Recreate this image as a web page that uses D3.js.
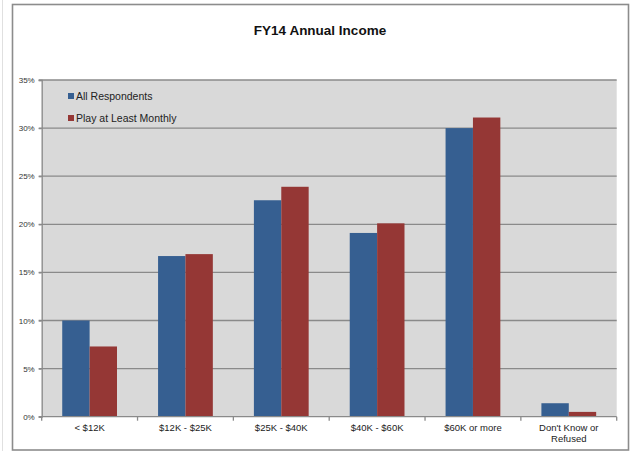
<!DOCTYPE html>
<html>
<head>
<meta charset="utf-8">
<script src="https://cdn.jsdelivr.net/npm/d3@7"></script>
<style>
  body { margin: 0; background: #fff; }
  svg { display: block; font-family: "Liberation Sans", Arial, sans-serif; }
</style>
</head>
<body>
<svg id="chart" width="631" height="451"></svg>
<script>
// income brackets
const categories = ["< $12K", "$12K - $25K", "$25K - $40K", "$40K - $60K", "$60K or more", "Don't Know or\nRefused"];
const seriesNames = ["All Respondents", "Play at Least Monthly"];
const allRespondents = [10.0, 16.7, 22.5, 19.1, 30.0, 1.4];
const playMonthly = [7.3, 16.9, 23.9, 20.1, 31.1, 0.5];
const yTicks = [0, 5, 10, 15, 20, 25, 30, 35];
const colors = ["#365f91", "#953735"];

const svg = d3.select("#chart");

// outer frame
svg.append("line")
  .attr("x1", 2.5).attr("x2", 2.5).attr("y1", 0).attr("y2", 451)
  .attr("stroke", "#e0e0e0").attr("stroke-width", 1);
svg.append("rect")
  .attr("x", 12.5).attr("y", 4.5).attr("width", 616).attr("height", 445.5)
  .attr("fill", "#fff").attr("stroke", "#8c8c8c").attr("stroke-width", 1.6);

svg.append("text")
  .attr("x", 320).attr("y", 35)
  .attr("text-anchor", "middle")
  .attr("font-size", "13.5px").attr("font-weight", "bold")
  .attr("fill", "#111")
  .text("FY14 Annual Income");

const plot = { left: 41.7, right: 616.7, top: 80, bottom: 416.7 };

const x = d3.scaleBand()
  .domain(categories)
  .range([plot.left, plot.right])
  .paddingInner(0).paddingOuter(0);

const inner = d3.scaleBand()
  .domain(seriesNames)
  .range([0, x.bandwidth()])
  .paddingOuter(0.75).paddingInner(0);

const y = d3.scaleLinear().domain([0, 35]).range([plot.bottom, plot.top]);

svg.append("rect")
  .attr("x", plot.left).attr("y", plot.top)
  .attr("width", plot.right - plot.left).attr("height", plot.bottom - plot.top)
  .attr("fill", "#d9d9d9");

// gridlines
svg.append("g")
  .selectAll("line")
  .data(yTicks.filter(d => d > 0))
  .enter()
  .append("line")
  .attr("x1", plot.left - 3).attr("x2", plot.right)
  .attr("y1", d => y(d)).attr("y2", d => y(d))
  .attr("stroke", "#8a8a8a").attr("stroke-width", 1.3);

// bars
const rows = categories.map((c, i) => ({ cat: c, values: [allRespondents[i], playMonthly[i]] }));
const groups = svg.append("g")
  .selectAll("g")
  .data(rows)
  .enter()
  .append("g")
  .attr("transform", d => "translate(" + x(d.cat) + ",0)");

groups.selectAll("rect")
  .data(d => d.values.map((v, j) => ({ name: seriesNames[j], value: v, j: j })))
  .enter()
  .append("rect")
  .attr("x", d => inner(d.name))
  .attr("width", inner.bandwidth())
  .attr("y", d => y(d.value))
  .attr("height", d => y(0) - y(d.value))
  .attr("fill", d => colors[d.j]);

// y axis
const yAxis = svg.append("g")
  .attr("transform", "translate(" + plot.left + ",0)")
  .call(d3.axisLeft(y).tickValues(yTicks).tickFormat(d => d + "%").tickSize(3).tickPadding(4));
yAxis.select(".domain").attr("stroke", "#8a8a8a").attr("stroke-width", 1.3);
yAxis.selectAll(".tick line").attr("stroke", "#8a8a8a").attr("stroke-width", 1.3);
yAxis.selectAll("text")
  .attr("font-family", "Liberation Sans, Arial, sans-serif")
  .attr("font-size", "8px").attr("fill", "#333");

// x axis line and boundary ticks
svg.append("line")
  .attr("x1", plot.left - 3).attr("x2", plot.right)
  .attr("y1", plot.bottom).attr("y2", plot.bottom)
  .attr("stroke", "#8a8a8a").attr("stroke-width", 1.3);
svg.append("g")
  .selectAll("line")
  .data(categories.map(c => x(c)).concat([plot.right]))
  .enter()
  .append("line")
  .attr("x1", d => d).attr("x2", d => d)
  .attr("y1", plot.bottom).attr("y2", plot.bottom + 4)
  .attr("stroke", "#8a8a8a").attr("stroke-width", 1.3);

// x labels
const xl = svg.append("g")
  .selectAll("text")
  .data(categories)
  .enter()
  .append("text")
  .attr("x", d => x(d) + x.bandwidth() / 2)
  .attr("y", 431)
  .attr("text-anchor", "middle")
  .attr("font-size", "9.5px").attr("fill", "#222");
xl.each(function (d) {
  const lines = d.split("\n");
  d3.select(this).selectAll("tspan")
    .data(lines)
    .enter()
    .append("tspan")
    .attr("x", x(d) + x.bandwidth() / 2)
    .attr("dy", (l, i) => (i === 0 ? 0 : 11))
    .text(l => l);
});

// legend
const legend = svg.append("g")
  .selectAll("g")
  .data(seriesNames)
  .enter()
  .append("g")
  .attr("transform", (d, i) => "translate(68," + (96 + i * 22) + ")");
legend.append("rect")
  .attr("x", 0).attr("y", -3)
  .attr("width", 6).attr("height", 6)
  .attr("fill", (d, i) => colors[i]);
legend.append("text")
  .attr("x", 8).attr("y", 3.7)
  .attr("font-size", "10.5px").attr("fill", "#222")
  .text(d => d);
</script>
</body>
</html>
